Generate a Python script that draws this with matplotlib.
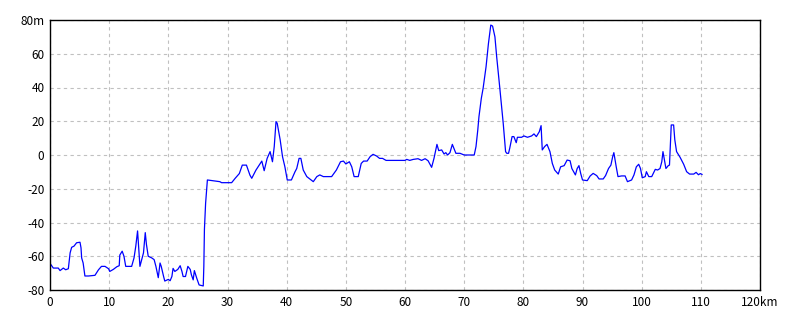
import matplotlib
matplotlib.use("Agg")
import matplotlib.pyplot as plt

# Profil wysokości trasy (odczyt z wykresu)
dist_km = [0.0, 0.56, 1.4, 1.7, 2.25, 2.65, 3.1, 3.4, 3.66, 4.06, 4.5, 5.07, 5.24, 5.35, 5.6, 5.9,
           6.5, 7.6, 8.2, 8.7, 9.3, 9.9, 10.1, 10.7, 11.3, 11.7, 11.8, 12.2, 12.5, 12.8, 13.8,
           14.2, 14.5, 14.8, 15.0, 15.2, 15.5, 15.8, 16.1, 16.3, 16.6, 17.2, 17.6, 17.9, 18.3,
           18.6, 18.8, 19.2, 19.4, 20.0, 20.3, 20.6, 20.8, 21.1, 21.6, 22.0, 22.3, 22.5, 22.9,
           23.3, 23.7, 23.9, 24.2, 24.4, 24.8, 25.2, 25.9, 26.0, 26.1, 26.3, 26.6, 28.7, 29.0,
           30.7, 31.3, 32.0, 32.5, 33.2, 33.8, 34.1, 34.8, 35.8, 36.2, 36.7, 37.2, 37.6, 37.9,
           38.2, 38.4, 38.9, 39.3, 39.7, 40.1, 40.8, 41.4, 41.7, 42.1, 42.4, 42.8, 43.4, 44.5,
           45.1, 45.6, 46.2, 47.6, 48.4, 49.1, 49.6, 50.0, 50.6, 51.0, 51.4, 52.1, 52.6, 53.0,
           53.6, 54.1, 54.6, 55.2, 55.7, 56.2, 56.8, 60.0, 60.3, 60.8, 61.4, 62.2, 62.8, 63.4,
           63.9, 64.5, 64.9, 65.4, 65.7, 66.2, 66.6, 66.9, 67.2, 67.6, 68.0, 68.6, 69.3, 70.0,
           71.7, 72.0, 72.3, 72.5, 72.9, 73.2, 73.7, 74.1, 74.5, 74.8, 75.2, 75.5, 76.0, 76.6,
           77.0, 77.2, 77.5, 77.7, 78.1, 78.4, 78.8, 79.0, 79.7, 80.1, 80.7, 81.4, 81.8, 82.2,
           82.7, 83.0, 83.2, 83.6, 84.0, 84.5, 84.9, 85.3, 85.9, 86.3, 86.9, 87.4, 87.9, 88.2,
           88.4, 88.8, 89.1, 89.4, 89.7, 90.0, 90.8, 91.3, 91.8, 92.4, 92.8, 93.5, 93.9, 94.4,
           94.8, 95.1, 95.3, 95.7, 96.0, 96.6, 97.2, 97.6, 98.3, 98.7, 99.1, 99.5, 99.8, 100.1,
           100.6, 100.8, 101.2, 101.7, 102.3, 102.7, 103.1, 103.4, 103.6, 103.8, 104.1, 104.5,
           104.7, 105.0, 105.4, 105.6, 105.9, 106.5, 107.1, 107.6, 108.1, 108.8, 109.2, 109.6,
           109.9, 110.2]
elev_m = [-64.2, -67, -67, -68.5, -67, -68, -67.4, -58, -54.7, -54, -52, -51.7, -55, -61, -64, -71.7,
          -71.7, -71.3, -68, -66, -66, -67.4, -69, -67.8, -66.2, -65.6, -59.3, -57, -60, -66, -66,
          -61, -54, -45, -56, -66, -62, -58, -46, -53, -60, -61, -62, -66, -72.7,
          -64, -66, -72, -74.7, -73.7, -74.5, -72, -67.2, -69, -67.8, -65.6, -69, -72, -72,
          -66, -67.8, -71, -74, -68.5, -73, -77, -77.6, -66, -44, -28.6, -14.8, -15.8, -16.4,
          -16.4, -13.8, -11, -6, -6, -12, -13.8, -9, -3.6, -9.3, -2, 2, -4, 5,
          19.8, 18.8, 9, -1, -7, -14.8, -14.8, -10, -8, -2, -2, -8.9, -12.8, -15.8,
          -12.8, -11.8, -12.8, -12.8, -8.9, -4, -3.6, -5.3, -4, -7, -12.8, -12.8, -5, -3.6,
          -3.6, -1, 0.4, -0.6, -2, -2, -3.2, -3.2, -2.6, -3.2, -2.6, -2.2, -3.2, -2.2,
          -3.4, -7.3, -2, 6.3, 2.6, 3, 0.6, 1.4, 0, 1.4, 6.3, 1, 1, 0,
          0, 5, 14.8, 22.7, 33.6, 39.5, 52.3, 66, 77, 76.4, 70, 58, 40.5, 18.8,
          2, 1, 1, 4, 10.9, 10.9, 7.3, 10.5, 10.5, 11.3, 10.5, 11.3, 12.5, 10.9,
          13.8, 17.4, 3, 5, 6.3, 2, -5, -8.9, -11.3, -7, -6.3, -3, -3.4, -8,
          -9.3, -11.8, -8, -6.3, -11, -14.8, -15.2, -12.4, -10.9, -12.2, -14.2, -14.2, -12.2, -8,
          -6, -1, 1.4, -7, -12.8, -12.4, -12.4, -15.8, -14.8, -11.8, -7, -5.5, -8, -13.5,
          -12.8, -9.9, -12.8, -12.8, -8.5, -8.9, -8, -4, 2, -2, -8, -6.3,
          -6, 17.8, 17.8, 9, 2, -1.4, -5.5, -9.9, -11.3, -11.3, -10.3, -11.7,
          -11, -11.5]

x_ticks = list(range(0, 121, 10))
x_labels = [str(v) for v in x_ticks[:-1]] + ["120km"]
y_ticks = list(range(-80, 81, 20))
y_labels = [str(v) for v in y_ticks[:-1]] + ["80m"]

plt.rcParams['font.family'] = ['Noto Sans CJK JP', 'DejaVu Sans']

fig = plt.figure(figsize=(8, 3.2), dpi=100)
ax = fig.add_axes([0.0625, 0.09375, 0.8875, 0.84375])

ax.plot(dist_km, elev_m, color="#0000ff", linewidth=0.9)

ax.set_xlim(0, 120)
ax.set_ylim(-80, 80)
ax.set_xticks(x_ticks)
ax.set_xticklabels(x_labels)
ax.set_yticks(y_ticks)
ax.set_yticklabels(y_labels)
ax.tick_params(length=0, labelsize=8.5, pad=4)

ax.grid(True, color="#c0c0c0", linestyle=(0, (3, 3)), linewidth=0.8)
for s in ax.spines.values():
    s.set_color("black")
    s.set_linewidth(1.0)

plt.savefig("out.png", dpi=100)
plt.close()
